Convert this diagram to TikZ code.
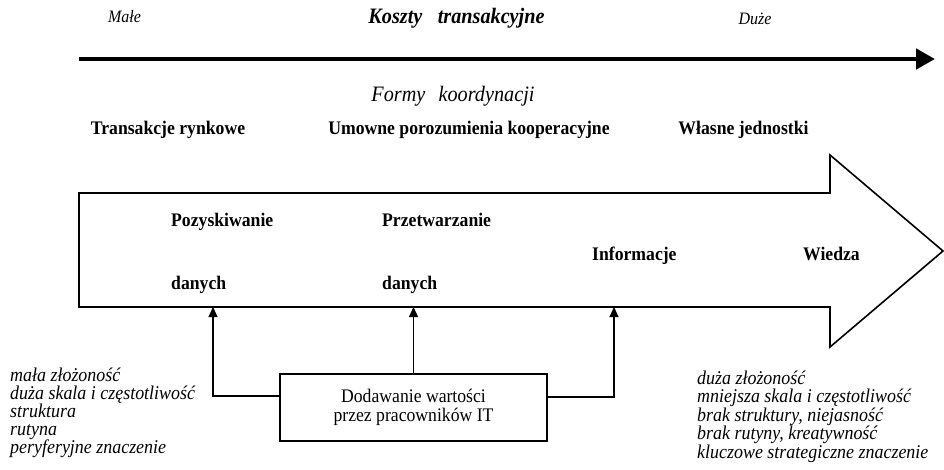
\documentclass[tikz,border=0pt]{standalone}
\usepackage{fontspec}
\setmainfont{Liberation Serif}[FakeStretch=0.92]
\usetikzlibrary{arrows.meta}
\begin{document}
\begin{tikzpicture}[x=1pt,y=-1pt,
  lbl/.style={inner sep=0pt, anchor=base},
  bl/.style={lbl, font=\fontsize{19.2}{19}\selectfont\bfseries},
  bw/.style={inner sep=0pt, anchor=base west, font=\fontsize{19.2}{19}\selectfont\bfseries},
  itl/.style={inner sep=0pt, anchor=base west, font=\fontsize{19.5}{18}\selectfont\itshape},
  con/.style={line width=1.1pt},
  uparr/.style={con, -{Triangle[length=10pt,width=9pt]}}
]
\useasboundingbox (0,0) rectangle (944,470);

% top
\node[lbl, font=\fontsize{17.4}{17}\selectfont\itshape] (male) at (124.5,23) {Małe};
\node[lbl, font=\fontsize{22}{22}\selectfont\bfseries\itshape] (koszty) at (456.5,24) {Koszty\hspace{0.7em}transakcyjne};
\node[lbl, font=\fontsize{17.4}{17}\selectfont\itshape] (duze) at (755,25) {Duże};
\coordinate (cs) at (79,59);
\coordinate (ce) at (935,59);
\draw[line width=4.5pt, -{Triangle[length=19pt,width=20pt]}] (cs) -- (ce);

\node[lbl, font=\fontsize{22}{22}\selectfont\itshape] (formy) at (453,102) {Formy\hspace{0.6em}koordynacji};
\node[bl] (tr) at (168,135) {Transakcje rynkowe};
\node[bl] (um) at (469,135) {Umowne porozumienia kooperacyjne};
\node[bl] (wl) at (743.5,135) {Własne jednostki};

% big arrow
\draw[line width=1.6pt, line join=miter]
  (79,193) -- (830,193) -- (830,155) -- (943,251) -- (830,347) -- (830,307) -- (79,307) -- cycle;

\node[bw] (poz) at (171,227) {Pozyskiwanie};
\node[bw] (dan1) at (171,289) {danych};
\node[bw] (prz) at (382,227) {Przetwarzanie};
\node[bw] (dan2) at (382,289) {danych};
\node[bw] (inf) at (592,260) {Informacje};
\node[bw] (wie) at (803,260) {Wiedza};

\coordinate (pA) at (213,307);
\coordinate (pB) at (413.5,307);
\coordinate (pC) at (614,307);

\node[draw, line width=1.1pt, minimum width=267pt, minimum height=67pt, inner sep=0pt,
      align=center, font=\fontsize{19.2}{19}\selectfont] (box) at (413.5,407.5)
      {Dodawanie wartości\\przez pracowników IT};

\draw[uparr] ([yshift=11.5pt]box.west) -| (pA);
\draw[uparr] (box.north) -- (pB);
\draw[uparr] ([yshift=10.5pt]box.east) -| (pC);

% lists
\foreach \t [count=\i] in {mała złożoność, duża skala i częstotliwość, struktura, rutyna, peryferyjne znaczenie}
  \node[itl] (L\i) at (10,{381.5+18*(\i-1)}) {\t};
\foreach \t [count=\i] in {duża złożoność, mniejsza skala i częstotliwość, {brak struktury, niejasność}, {brak rutyny, kreatywność}, kluczowe strategiczne znaczenie}
  \node[itl] (R\i) at (697,{384+18.5*(\i-1)}) {\t};
\end{tikzpicture}
\end{document}
